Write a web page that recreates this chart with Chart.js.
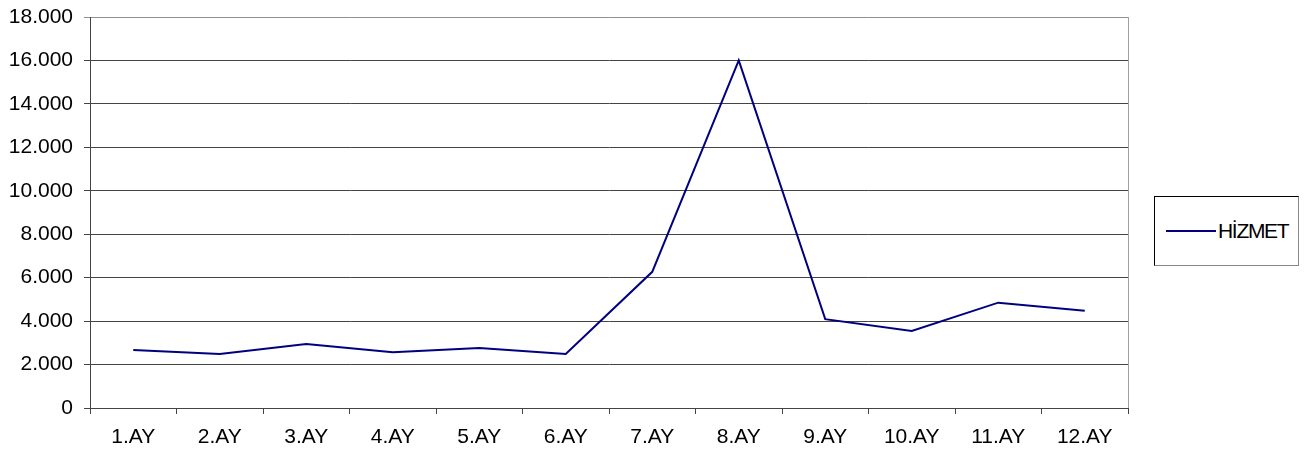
<!DOCTYPE html>
<html>
<head>
<meta charset="utf-8">
<script src="https://cdn.jsdelivr.net/npm/chart.js@4"></script>
<style>
  html, body { margin: 0; padding: 0; background: #fff; }
  #wrap { position: relative; width: 1309px; height: 455px; }
  #legend {
    position: absolute; left: 1154px; top: 196px; width: 145px; height: 70px;
    border: 1px solid #000; border-right-color: #888; border-bottom-color: #888;
    box-sizing: border-box; background: #fff;
    font-family: "Liberation Sans", Arial, sans-serif; font-size: 21px; line-height: 24px; color: #000;
  }
  #legend .ln { position: absolute; left: 11px; top: 33px; width: 50px; height: 2px; background: #000080; }
  #legend .tx { position: absolute; left: 63px; top: 22px; letter-spacing: -1.3px; }
</style>
</head>
<body>
<div id="wrap">
  <canvas id="lineChart" width="1309" height="455"></canvas>
  <div id="legend"><div class="ln"></div><div class="tx">HİZMET</div></div>
</div>
<script>
const months = ["1.AY", "2.AY", "3.AY", "4.AY", "5.AY", "6.AY", "7.AY", "8.AY", "9.AY", "10.AY", "11.AY", "12.AY"];
const hizmet = [2670, 2490, 2950, 2570, 2760, 2490, 6270, 16000, 4090, 3550, 4850, 4480];
const yTicks = [0, 2000, 4000, 6000, 8000, 10000, 12000, 14000, 16000, 18000];

document.addEventListener("DOMContentLoaded", function () {
    const ctx = document.getElementById("lineChart").getContext("2d");
    const font = { family: "Liberation Sans", size: 21 };

    // plot area right border
    const frame = {
        id: "frame",
        afterDraw(chart) {
            const a = chart.chartArea, c = chart.ctx;
            c.save();
            c.strokeStyle = "#a0a0a0";
            c.lineWidth = 1;
            c.beginPath();
            c.moveTo(Math.round(a.right) + 0.5, a.top);
            c.lineTo(Math.round(a.right) + 0.5, a.bottom);
            c.stroke();
            c.restore();
        },
    };

    new Chart(ctx, {
        type: "line",
        data: {
            labels: months,
            datasets: [
                {
                    label: "HİZMET",
                    data: hizmet,
                    borderColor: "#000080",
                    borderWidth: 2,
                    pointRadius: 0,
                    tension: 0,
                },
            ],
        },
        options: {
            responsive: false,
            animation: false,
            layout: { padding: { left: 0, right: 181, top: 17, bottom: 0 } },
            plugins: { legend: { display: false }, tooltip: { enabled: false } },
            scales: {
                x: {
                    offset: true,
                    afterFit: (s) => { s.height = 47; s.paddingLeft = 0; s.paddingRight = 0; },
                    grid: { offset: true, drawOnChartArea: false, tickLength: 6, color: "#444" },
                    border: { color: "#444" },
                    ticks: { font: font, color: "#000", padding: 11, maxRotation: 0 },
                },
                y: {
                    min: 0,
                    max: 18000,
                    afterFit: (s) => { s.width = 90; s.paddingTop = 0; s.paddingBottom = 0; },
                    afterBuildTicks: (s) => { s.ticks = yTicks.map((v) => ({ value: v })); },
                    grid: { color: (c) => (c.tick && c.tick.value === 18000 ? "#909090" : "#444"), tickLength: 6 },
                    border: { color: "#444" },
                    ticks: {
                        font: font,
                        color: "#000",
                        padding: 11,
                        callback: (v) => v.toLocaleString("de-DE"),
                    },
                },
            },
        },
        plugins: [frame],
    });
});
</script>
</body>
</html>
